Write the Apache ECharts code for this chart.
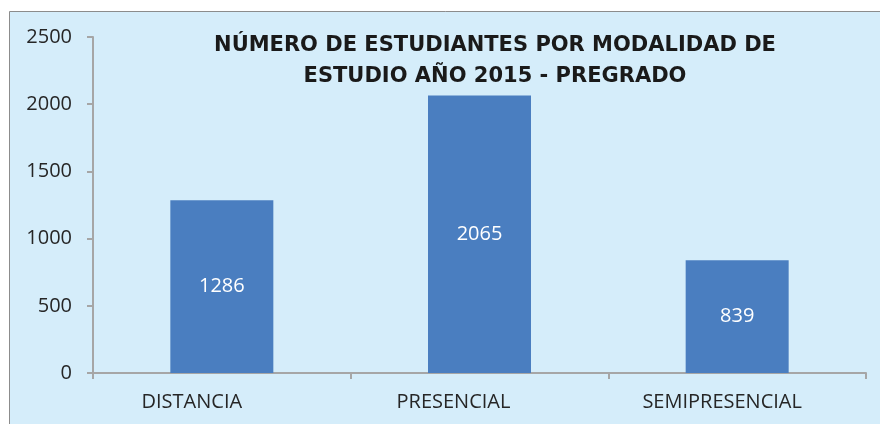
<!DOCTYPE html>
<html>
<head>
<meta charset="utf-8">
<script src="https://cdn.jsdelivr.net/npm/echarts@6/dist/echarts.min.js"></script>
<style>
  html, body { margin: 0; padding: 0; background: #fff; }
  #main { width: 880px; height: 424px; }
</style>
</head>
<body>
<div id="main"></div>
<script>
var categories = ['DISTANCIA', 'PRESENCIAL', 'SEMIPRESENCIAL'];
var students = [1286, 2065, 839];
var yTicks = [0, 500, 1000, 1500, 2000, 2500];

// the labels in the source sit a bit left of their bars
var labelPadRight = [60, 52, 30];

var chart = echarts.init(document.getElementById('main'));

var option = {
  animation: false,
  graphic: [
    {
      type: 'rect',
      z: -10,
      shape: { x: 9.5, y: 11.5, width: 900, height: 440 },
      style: { fill: '#D5EDFA', stroke: '#8C8C8C', lineWidth: 1 }
    },
    {
      type: 'text',
      z: 10,
      style: {
        x: 495,
        y: 30,
        text: 'NÚMERO DE ESTUDIANTES POR MODALIDAD DE\nESTUDIO AÑO 2015 - PREGRADO',
        align: 'center',
        verticalAlign: 'top',
        fill: '#1a1a1a',
        font: 'bold 21px "DejaVu Sans", sans-serif',
        lineHeight: 31
      }
    }
  ],
  grid: { left: 93, right: 14, top: 37, bottom: 51 },
  xAxis: {
    type: 'category',
    data: categories.map(function (c, i) {
      return { value: c, textStyle: { padding: [0, labelPadRight[i], 0, 0] } };
    }),
    axisLine: { lineStyle: { color: '#A6A6A6', width: 2 } },
    axisTick: { show: true, length: 6, lineStyle: { color: '#A6A6A6', width: 2 } },
    axisLabel: { color: '#262626', fontSize: 20, margin: 19, fontFamily: 'Open Sans' }
  },
  yAxis: {
    type: 'value',
    min: yTicks[0],
    max: yTicks[yTicks.length - 1],
    interval: 500,
    splitLine: { show: false },
    axisLine: { show: true, lineStyle: { color: '#A6A6A6', width: 2 } },
    axisTick: { show: true, length: 6, lineStyle: { color: '#A6A6A6', width: 2 } },
    axisLabel: {
      color: '#262626', fontSize: 20, margin: 21, fontFamily: 'Open Sans',
      formatter: function (v) { return String(v); }
    }
  },
  series: [{
    type: 'bar',
    data: students,
    barWidth: 103,
    itemStyle: { color: '#4A7EC0' },
    label: {
      show: true,
      position: 'inside',
      color: '#ffffff',
      fontSize: 20,
      fontFamily: 'Open Sans'
    }
  }]
};

chart.setOption(option);
</script>
</body>
</html>
